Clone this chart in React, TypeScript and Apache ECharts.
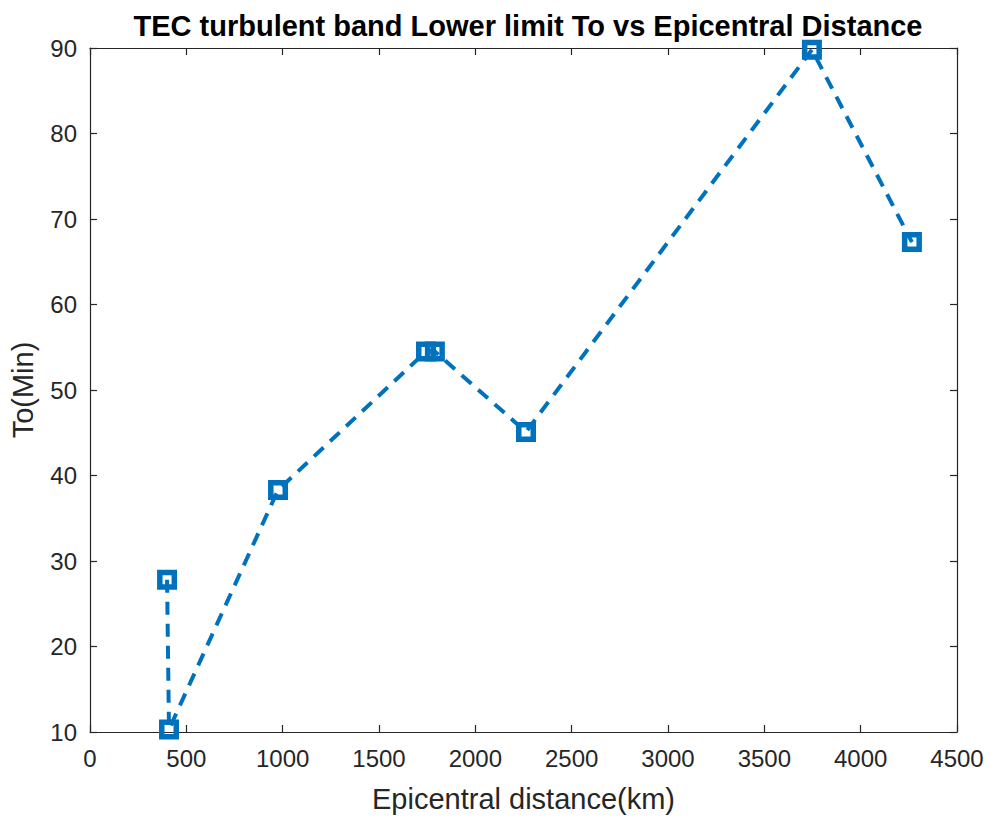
import React, { useEffect, useRef } from "react";
import * as echarts from "echarts";

const distanceKm = [400, 410, 976, 1744, 1790, 2263, 3747, 4266];
const toMin = [27.8, 10.3, 38.3, 54.5, 54.5, 45.1, 89.8, 67.3];
const xTicks = { min: 0, max: 4500, interval: 500 };
const yTicks = { min: 10, max: 90, interval: 10 };

const titleText = "TEC turbulent band Lower limit To vs Epicentral Distance";
const xName = "Epicentral distance(km)";
const yName = "To(Min)";

const FONT = "'Liberation Sans', Arial, Helvetica, sans-serif";
const AXIS_COLOR = "#262626";
const LINE_COLOR = "#0072BD";
const HOLLOW_SQUARE = "path://M0 0H20V20H0ZM5.5 5.5V14.5H14.5V5.5Z";

export default function App() {
  const ref = useRef<HTMLDivElement>(null);
  useEffect(() => {
    if (!ref.current) return;
    const chart = echarts.init(ref.current, undefined, { renderer: "svg" });
    const points = distanceKm.map((x, i) => [x, toMin[i]]);
    const axisCommon = {
      axisLine: { show: true, onZero: false, lineStyle: { color: AXIS_COLOR, width: 1.2 } },
      axisTick: { show: true, inside: true, length: 7, lineStyle: { color: AXIS_COLOR, width: 1.2 } },
      splitLine: { show: false },
    };
    chart.setOption({
      animation: false,
      backgroundColor: "#ffffff",
      title: {
        text: titleText,
        left: 523,
        top: 6,
        textAlign: "center",
        textStyle: { fontFamily: FONT, fontSize: 29, fontWeight: "bold", color: "#000" },
      },
      grid: { left: 90, top: 48, right: 33, bottom: 89, containLabel: false },
      xAxis: [
        {
          type: "value",
          position: "bottom",
          ...xTicks,
          ...axisCommon,
          name: xName,
          nameLocation: "middle",
          nameGap: 52,
          nameTextStyle: { fontFamily: FONT, fontSize: 29, color: AXIS_COLOR },
          axisLabel: {
            fontFamily: FONT,
            fontSize: 24,
            color: AXIS_COLOR,
            margin: 14,
            formatter: (v: number) => String(v),
          },
        },
        {
          type: "value",
          position: "top",
          ...xTicks,
          ...axisCommon,
          axisLabel: { show: false },
        },
      ],
      yAxis: [
        {
          type: "value",
          position: "left",
          ...yTicks,
          ...axisCommon,
          name: yName,
          nameLocation: "middle",
          nameRotate: 90,
          nameGap: 53,
          nameTextStyle: { fontFamily: FONT, fontSize: 29, color: AXIS_COLOR },
          axisLabel: {
            fontFamily: FONT,
            fontSize: 24,
            color: AXIS_COLOR,
            margin: 13,
            formatter: (v: number) => String(v),
          },
        },
        {
          type: "value",
          position: "right",
          ...yTicks,
          ...axisCommon,
          axisLabel: { show: false },
        },
      ],
      series: [
        {
          type: "line",
          xAxisIndex: 0,
          yAxisIndex: 0,
          data: points,
          symbol: HOLLOW_SQUARE,
          symbolSize: 20,
          showAllSymbol: true,
          lineStyle: { color: LINE_COLOR, width: 4, type: [13, 9] },
          itemStyle: { color: LINE_COLOR, borderWidth: 0 },
          emphasis: { disabled: true },
          z: 3,
        },
      ],
    });
    return () => chart.dispose();
  }, []);
  return (
    <div
      ref={ref}
      style={{ position: "absolute", left: 0, top: 0, width: 990, height: 821, background: "#fff" }}
    />
  );
}
